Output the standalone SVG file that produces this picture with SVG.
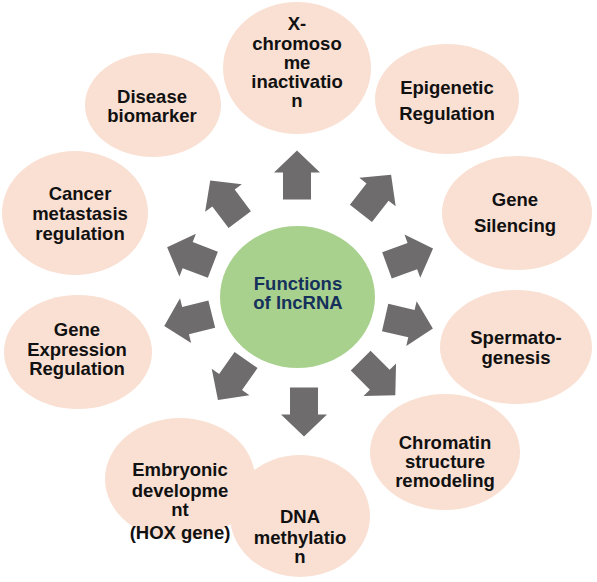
<svg xmlns="http://www.w3.org/2000/svg" xmlns:xlink="http://www.w3.org/1999/xlink" width="597" height="582" viewBox="0 0 597 582">
<style>
.node ellipse{fill:#f9e0d3}
.node text{font-family:"Liberation Sans",Arial,sans-serif;font-weight:bold;font-size:18.5px;fill:#111;text-anchor:middle}
#center text{fill:#16305c}
.arr{fill:#6e6c6c}
</style>
<defs>
<polygon id="arr" points="-24.5,-14 2.5,-14 2.5,-23 24.5,0 2.5,23 2.5,14 -24.5,14"/>
</defs>
<rect width="597" height="582" fill="#ffffff"/>
<g id="connectors" class="arr">
<use xlink:href="#arr" transform="translate(297,175) rotate(-90)"/>
<use xlink:href="#arr" transform="translate(376,194) rotate(-52)"/>
<use xlink:href="#arr" transform="translate(410,257) rotate(-20)"/>
<use xlink:href="#arr" transform="translate(409,323) rotate(13)"/>
<use xlink:href="#arr" transform="translate(378,378) rotate(45)"/>
<use xlink:href="#arr" transform="translate(304,412) rotate(90)"/>
<use xlink:href="#arr" transform="translate(232,380) rotate(125)"/>
<use xlink:href="#arr" transform="translate(188,320) rotate(166)"/>
<use xlink:href="#arr" transform="translate(190,256) rotate(201)"/>
<use xlink:href="#arr" transform="translate(225,200) rotate(233)"/>
</g>
<g id="center" class="node">
<ellipse cx="297.5" cy="297" rx="77.5" ry="71" style="fill:#a9d18e"/>
<text x="298" y="290">Functions</text>
<text x="298" y="309">of lncRNA</text>
</g>
<g id="xci" class="node">
<ellipse cx="297" cy="68" rx="74" ry="66"/>
<text x="297" y="30">X-</text>
<text x="297" y="50">chromoso</text>
<text x="297" y="69">me</text>
<text x="297" y="88">inactivatio</text>
<text x="297" y="107">n</text>
</g>
<g id="epigenetic" class="node">
<ellipse cx="447" cy="99" rx="72" ry="55"/>
<text x="447" y="94">Epigenetic</text>
<text x="447" y="120">Regulation</text>
</g>
<g id="silencing" class="node">
<ellipse cx="517" cy="213" rx="75" ry="57"/>
<text x="515" y="206">Gene</text>
<text x="515" y="232">Silencing</text>
</g>
<g id="spermatogenesis" class="node">
<ellipse cx="516" cy="347" rx="76" ry="57"/>
<text x="516" y="344">Spermato-</text>
<text x="516" y="364">genesis</text>
</g>
<g id="chromatin" class="node">
<ellipse cx="445" cy="452" rx="75" ry="58"/>
<text x="445" y="449">Chromatin</text>
<text x="445" y="468">structure</text>
<text x="445" y="487">remodeling</text>
</g>
<g id="dna" class="node">
<ellipse cx="300" cy="516" rx="70" ry="61"/>
<text x="300" y="523">DNA</text>
<text x="300" y="544">methylatio</text>
<text x="300" y="563">n</text>
</g>
<g id="embryonic" class="node">
<ellipse cx="180" cy="479" rx="75" ry="61"/>
<text x="180" y="476">Embryonic</text>
<text x="180" y="497">developme</text>
<text x="180" y="516">nt</text>
<text x="180" y="539">(HOX gene)</text>
</g>
<g id="expression" class="node">
<ellipse cx="78" cy="352" rx="74" ry="57"/>
<text x="77" y="336">Gene</text>
<text x="77" y="356">Expression</text>
<text x="77" y="375">Regulation</text>
</g>
<g id="cancer" class="node">
<ellipse cx="75" cy="213" rx="73" ry="62"/>
<text x="80" y="200">Cancer</text>
<text x="80" y="220">metastasis</text>
<text x="80" y="239.5">regulation</text>
</g>
<g id="disease" class="node">
<ellipse cx="153" cy="105" rx="68" ry="52"/>
<text x="152" y="103">Disease</text>
<text x="152" y="122">biomarker</text>
</g>
</svg>
